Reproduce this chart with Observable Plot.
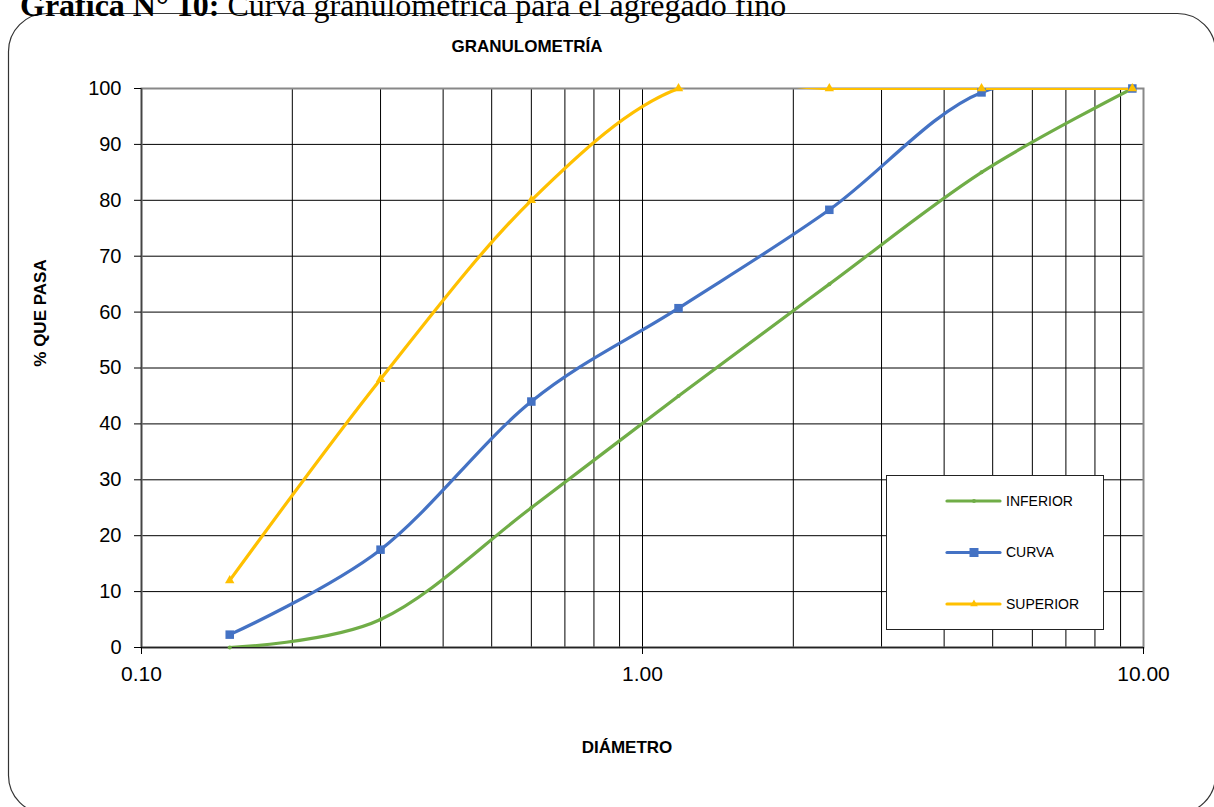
<!DOCTYPE html>
<html><head><meta charset="utf-8">
<script src="https://cdn.jsdelivr.net/npm/d3@7"></script>
<script src="https://cdn.jsdelivr.net/npm/@observablehq/plot@0.6"></script>
<style>
body{margin:0;background:#fff;}
#wrap{position:relative;width:1214px;height:807px;overflow:hidden;}
</style>
</head><body><div id="wrap"></div>
<script>
// ---- data ----
const sieves   = [0.15, 0.3, 0.6, 1.18, 2.36, 4.75, 9.5];
const inferior = [0, 5, 25, 45, 65, 85, 100];
const curva    = [2.3, 17.5, 44, 60.7, 78.3, 99.3, 100];
const superior = [12, 48, 80, 100, 100, 100, 100];
const seriesNames  = ["INFERIOR", "CURVA", "SUPERIOR"];
const seriesColors = ["#70AD47", "#4472C4", "#FFC000"];
const xTickValues = [0.1, 1, 10];
const xGridValues = [0.2,0.3,0.4,0.5,0.6,0.7,0.8,0.9,1,2,3,4,5,6,7,8,9];
const yTickValues = [0,10,20,30,40,50,60,70,80,90,100];
const titleBold = "Gráfica N° 10:";
const titleRest = " Curva granulométrica para el agregado fino";
const chartTitle = "GRANULOMETRÍA";
const xTitle = "DIÁMETRO";
const yTitle = "% QUE PASA";

const seriesValues = [inferior, curva, superior];
const rows = [];
seriesNames.forEach((s, i) => sieves.forEach((d, j) => rows.push({s, d, v: seriesValues[i][j]})));

const W = 1214, H = 807;
const chart = Plot.plot({
  width: W, height: H,
  marginLeft: 141, marginRight: 71, marginTop: 88, marginBottom: 160,
  style: {fontFamily: "'Liberation Sans', Arial, sans-serif", fontSize: "20px", color: "#000", background: "transparent", overflow: "visible"},
  x: {type: "log", domain: [0.1, 10]},
  y: {domain: [0, 100]},
  color: {domain: seriesNames, range: seriesColors},
  marks: [
    Plot.ruleX(xGridValues, {stroke: "#000", strokeWidth: 1}),
    Plot.ruleY(yTickValues.slice(1, -1), {stroke: "#000", strokeWidth: 1}),
    Plot.frame({stroke: "#888", strokeWidth: 2}),
    Plot.ruleX([0.1], {stroke: "#444", strokeWidth: 1.5}),
    Plot.ruleY([0], {stroke: "#222", strokeWidth: 1.5}),
    Plot.axisY({ticks: yTickValues, tickSize: 7, tickPadding: 13, label: null, fontSize: 20}),
    Plot.axisX({ticks: xTickValues, tickFormat: d => d.toFixed(2), tickSize: 7, tickPadding: 12, label: null, fontSize: 21}),
    Plot.line(rows, {x: "d", y: "v", z: "s", stroke: "s", curve: "cardinal", tension: 0, strokeWidth: 3.2, clip: true}),
    Plot.dot(rows.filter(r => r.s === "INFERIOR"), {x: "d", y: "v", r: 2, fill: seriesColors[0]}),
    Plot.dot(rows.filter(r => r.s === "CURVA"), {x: "d", y: "v", symbol: "square", r: 4.8, fill: seriesColors[1]}),
    Plot.dot(rows.filter(r => r.s === "SUPERIOR"), {x: "d", y: "v", symbol: "triangle", r: 3.5, fill: seriesColors[2]})
  ]
});
document.getElementById("wrap").appendChild(chart);

const svg = d3.select(chart);
// outer rounded border
svg.insert("rect", ":first-child")
  .attr("x", 8.5).attr("y", 13.5).attr("width", 1207).attr("height", 800)
  .attr("rx", 38).attr("fill", "none").attr("stroke", "#333").attr("stroke-width", 1.2);
// title (partially cut at top, as in the reference)
const t = svg.append("text").attr("x", 20).attr("y", 16).attr("text-anchor", "start")
  .attr("font-family", "'Liberation Serif', 'Times New Roman', serif").attr("font-size", 32).attr("fill", "#000");
t.append("tspan").attr("font-weight", "bold").text(titleBold);
t.append("tspan").text(titleRest);
// chart title & axis titles
const bold = (sel) => sel.attr("font-family", "'Liberation Sans', Arial, sans-serif").attr("font-weight", "bold").attr("font-size", 17).attr("text-anchor", "middle");
bold(svg.append("text").attr("x", 527).attr("y", 52)).text(chartTitle);
bold(svg.append("text").attr("x", 627).attr("y", 753).attr("font-size", 18)).text(xTitle);
bold(svg.append("text").attr("transform", "translate(46,313) rotate(-90)")).text(yTitle);
// legend
const lg = svg.append("g");
lg.append("rect").attr("x", 886.5).attr("y", 475.5).attr("width", 217).attr("height", 154)
  .attr("fill", "#fff").attr("stroke", "#222").attr("stroke-width", 1);
seriesNames.forEach((name, i) => {
  const y = 501 + i * 51.5;
  lg.append("line").attr("x1", 947).attr("x2", 1000).attr("y1", y).attr("y2", y)
    .attr("stroke", seriesColors[i]).attr("stroke-width", 3.2).attr("stroke-linecap", "round");
  if (name === "CURVA") {
    lg.append("path").attr("d", d3.symbol(d3.symbolSquare, 81)()).attr("transform", `translate(974,${y})`).attr("fill", seriesColors[i]);
  } else if (name === "SUPERIOR") {
    lg.append("path").attr("d", d3.symbol(d3.symbolTriangle, 25)()).attr("transform", `translate(974,${y})`).attr("fill", seriesColors[i]);
  } else {
    lg.append("circle").attr("cx", 974).attr("cy", y).attr("r", 2).attr("fill", seriesColors[i]);
  }
  lg.append("text").attr("x", 1006).attr("y", y).attr("dy", "0.35em").attr("text-anchor", "start")
    .attr("font-family", "'Liberation Sans', Arial, sans-serif").attr("font-size", 14).text(name);
});
</script>
</body></html>
